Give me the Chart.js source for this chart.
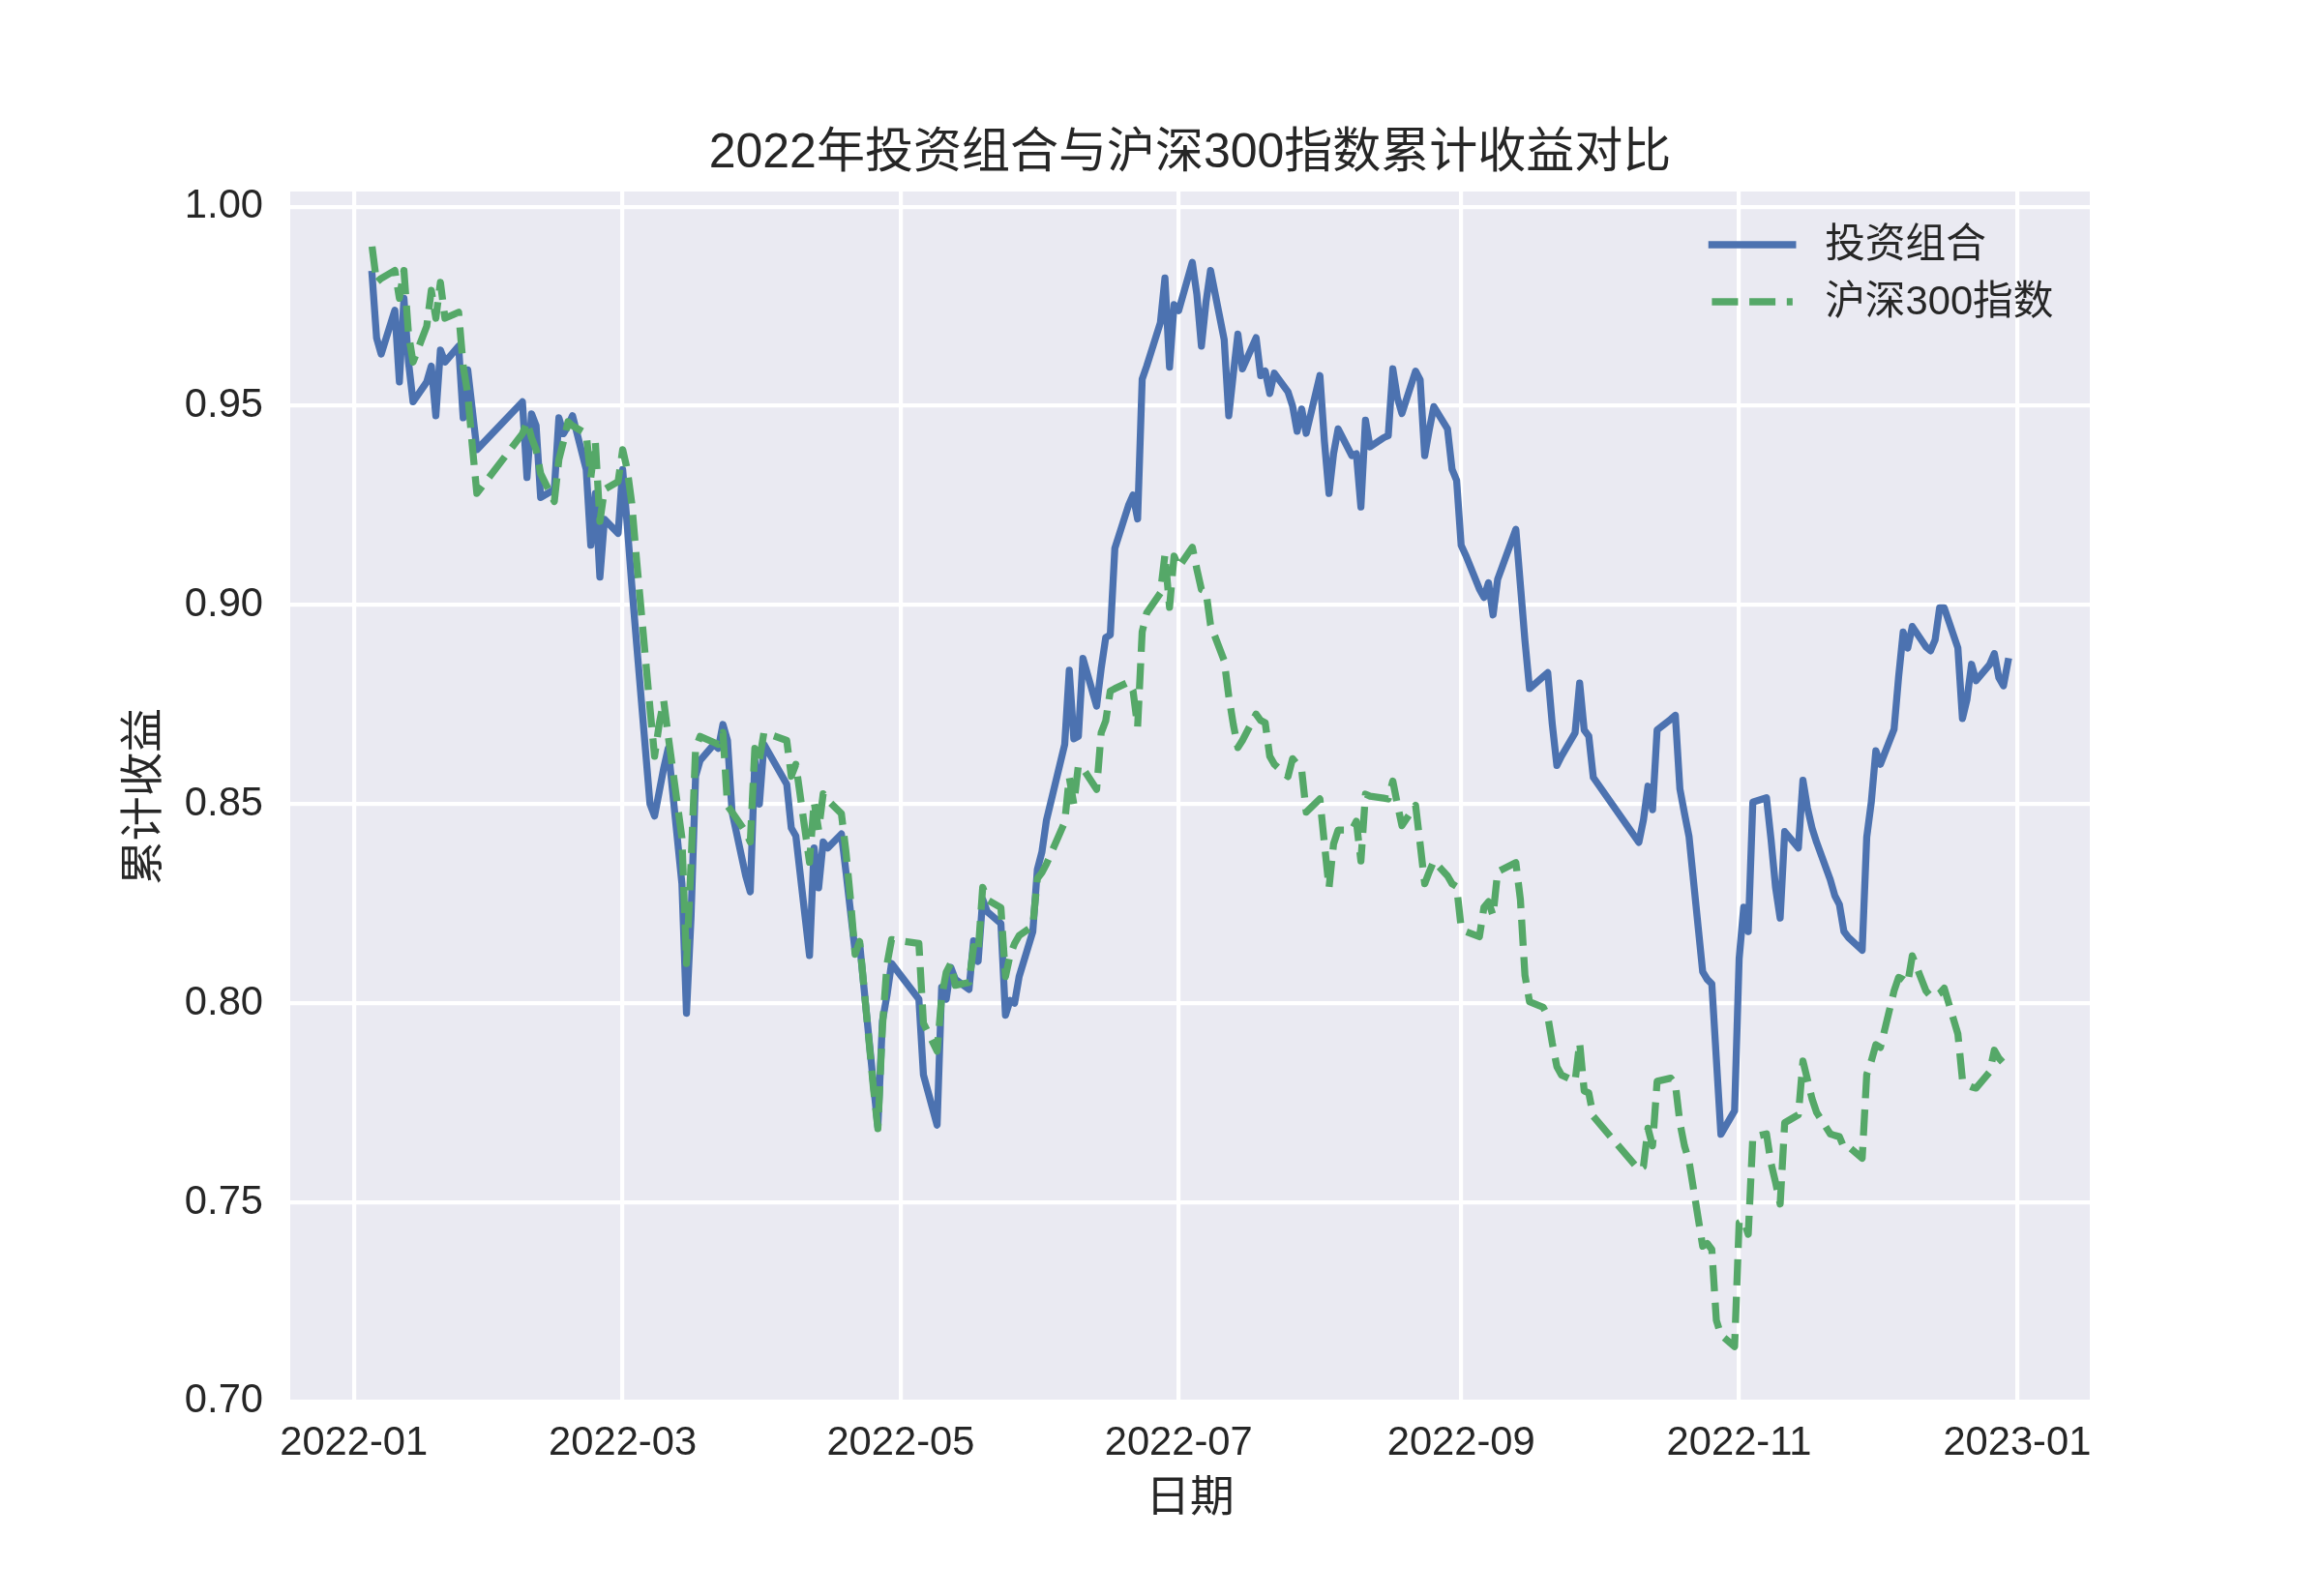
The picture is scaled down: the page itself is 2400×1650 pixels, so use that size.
<!DOCTYPE html>
<html>
<head>
<meta charset="utf-8">
<script src="https://cdn.jsdelivr.net/npm/chart.js@4.4.1/dist/chart.umd.min.js"></script>
<style>
  html, body { margin: 0; padding: 0; background: #ffffff; }
  canvas { display: block; }
</style>
</head>
<body>
<canvas id="cumChart" width="2400" height="1650" style="width:2400px;height:1650px"></canvas>
<script>
// trading days of 2022 (MM-DD)
const dates = [
  '01-05','01-06','01-07','01-10','01-11','01-12','01-13','01-14','01-17','01-18','01-19','01-20','01-21','01-24','01-25','01-26','01-27','01-28',
  '02-07','02-08','02-09','02-10','02-11','02-14','02-15','02-16','02-17','02-18','02-21','02-22','02-23','02-24','02-25','02-28',
  '03-01','03-02','03-03','03-04','03-07','03-08','03-09','03-10','03-11','03-14','03-15','03-16','03-17','03-18','03-21','03-22','03-23','03-24','03-25','03-28','03-29','03-30','03-31',
  '04-01','04-06','04-07','04-08','04-11','04-12','04-13','04-14','04-15','04-18','04-19','04-20','04-21','04-22','04-25','04-26','04-27','04-28','04-29',
  '05-05','05-06','05-09','05-10','05-11','05-12','05-13','05-16','05-17','05-18','05-19','05-20','05-23','05-24','05-25','05-26','05-27','05-30','05-31',
  '06-01','06-02','06-06','06-07','06-08','06-09','06-10','06-13','06-14','06-15','06-16','06-17','06-20','06-21','06-22','06-23','06-24','06-27','06-28','06-29','06-30',
  '07-01','07-04','07-05','07-06','07-07','07-08','07-11','07-12','07-13','07-14','07-15','07-18','07-19','07-20','07-21','07-22','07-25','07-26','07-27','07-28','07-29',
  '08-01','08-02','08-03','08-04','08-05','08-08','08-09','08-10','08-11','08-12','08-15','08-16','08-17','08-18','08-19','08-22','08-23','08-24','08-25','08-26','08-29','08-30','08-31',
  '09-01','09-02','09-05','09-06','09-07','09-08','09-09','09-13','09-14','09-15','09-16','09-19','09-20','09-21','09-22','09-23','09-26','09-27','09-28','09-29','09-30',
  '10-10','10-11','10-12','10-13','10-14','10-17','10-18','10-19','10-20','10-21','10-24','10-25','10-26','10-27','10-28','10-31',
  '11-01','11-02','11-03','11-04','11-07','11-08','11-09','11-10','11-11','11-14','11-15','11-16','11-17','11-18','11-21','11-22','11-23','11-24','11-25','11-28','11-29','11-30',
  '12-01','12-02','12-05','12-06','12-07','12-08','12-09','12-12','12-13','12-14','12-15','12-16','12-19','12-20','12-21','12-22','12-23','12-26','12-27','12-28','12-29','12-30'
];

// 投资组合
const portfolio = [
  .983,.967,.963,.974,.956,.977,.961,.951,.956,.960,.9475,.964,.961,.965,.947,.959,.949,.939,
  .951,.932,.948,.945,.927,.929,.947,.943,.945,.9475,.934,.915,.928,.907,.9215,.918,
  .934,.920,.905,.891,.850,.847,.853,.859,.864,.830,.7975,.8215,.857,.861,.865,.864,.870,.866,.848,.832,.828,.861,.850,
  .865,.855,.844,.842,.812,.839,.829,.8405,.839,.8425,.833,.823,.813,.815,.780,.769,.7955,.802,.810,
  .801,.782,.7694,.804,.801,.809,.806,.8035,.8157,.8105,.8261,.823,.820,.797,.8007,.800,.8067,.818,.8336,
  .838,.846,.865,.8836,.8664,.867,.8866,.8746,.884,.8918,.8925,.9142,.925,.9276,.9216,.9567,.960,.9709,.9821,.9597,.9754,
  .9739,.986,.978,.965,.976,.984,.9666,.9475,.958,.968,.9593,.9671,.9576,.9587,.9531,.9582,.9535,.950,.9436,.9492,.9431,
  .9576,.941,.928,.938,.9442,.9375,.938,.9246,.9464,.9397,.942,.9425,.9593,.952,.9481,.9587,.9565,.9375,.944,.9498,.9442,.9341,.9313,
  .915,.9125,.904,.9019,.9056,.8975,.9064,.919,.905,.891,.879,.882,.883,.870,.8597,.862,.8679,.8804,.8686,.8671,.8567,
  .8404,.846,.8545,.8486,.8686,.8713,.8723,.8538,.8477,.8419,.8079,.806,.8049,.786,.7671,.773,
  .8112,.8241,.818,.8505,.8516,.8411,.829,.8214,.8431,.839,.856,.849,.844,.8404,.831,.827,.8248,.818,.8165,.8133,.8417,.8505,
  .8634,.860,.8688,.882,.8932,.8892,.8946,.8895,.8885,.8912,.8993,.8993,.8892,.8715,.8763,.8851,.881,.8851,.8878,.8817,.8797,.8858
];

// 沪深300指数
const csi300 = [
  .990,.981,.982,.984,.977,.984,.968,.961,.970,.979,.972,.981,.972,.9735,.960,.953,.940,.928,
  .943,.946,.942,.939,.933,.926,.9365,.941,.946,.945,.943,.932,.941,.921,.929,.931,
  .939,.934,.9255,.912,.874,.862,.870,.876,.867,.8415,.810,.835,.864,.867,.8655,.865,.868,.8496,.848,.843,.8405,.864,.861,
  .868,.866,.857,.860,.8354,.8506,.8435,.8526,.851,.8476,.838,.826,.8123,.8155,.779,.7685,.794,.8098,.816,
  .815,.795,.788,.8016,.8078,.810,.8045,.8052,.8142,.8127,.8291,.826,.824,.8067,.812,.815,.817,.8194,.8313,
  .8328,.835,.8455,.8567,.850,.8597,.859,.8537,.8679,.8709,.8784,.879,.8806,.8784,.8694,.8933,.898,.903,.9127,.8994,.9123,
  .9095,.9145,.909,.9039,.9034,.895,.886,.8771,.870,.8642,.866,.8726,.871,.8704,.862,.860,.8569,.8614,.860,.8586,.848,
  .8513,.840,.829,.840,.8435,.8435,.8457,.8357,.8525,.852,.8515,.8513,.8558,.850,.8446,.8497,.840,.830,.833,.8357,.832,.830,.8293,
  .819,.818,.8167,.8241,.8255,.822,.833,.8353,.826,.807,.8004,.799,.7967,.790,.7841,.782,.7804,.7901,.778,.7775,.7716,
  .7582,.759,.7686,.7642,.7804,.7812,.7797,.770,.7642,.7604,.739,.7397,.7382,.7204,.7167,.7138,
  .7449,.7455,.742,.7664,.7672,.7598,.755,.7496,.770,.772,.7855,.7808,.776,.7726,.7672,.7668,.7665,.7638,.764,.7611,.7821,.7855,
  .7896,.7889,.8031,.8065,.806,.8051,.8119,.8031,.8018,.8018,.8025,.8038,.7923,.7808,.7795,.779,.7787,.7828,.7882,.7862,.785,.7848
];

const xTickLabels = ['2022-01','2022-03','2022-05','2022-07','2022-09','2022-11','2023-01'];
const yTicks = [0.70, 0.75, 0.80, 0.85, 0.90, 0.95, 1.00];

const FONT = "'Liberation Sans', Arial, 'Noto Sans CJK SC', sans-serif";
const TXT = '#262626';

// days since 2022-01-01
function dayOf(s) {
  const p = s.split('-').map(Number);
  return (Date.UTC(p[0], p[1] - 1, p[2] || 1) - Date.UTC(2022, 0, 1)) / 86400000;
}

const xs = dates.map(d => dayOf('2022-' + d));
const xPad = (xs[xs.length - 1] - xs[0]) * 0.05;
const allY = portfolio.concat(csi300);
const yLo = Math.min(...allY), yHi = Math.max(...allY);
const yPad = (yHi - yLo) * 0.05;

const plotBg = {
  id: 'plotBg',
  beforeDraw(chart) {
    const {ctx, chartArea: a} = chart;
    ctx.save();
    ctx.fillStyle = '#ffffff';
    ctx.fillRect(0, 0, chart.width, chart.height);
    ctx.fillStyle = '#EAEAF2';
    ctx.fillRect(a.left, a.top, a.right - a.left, a.bottom - a.top);
    ctx.restore();
  }
};

// legend in the upper right corner, two rows, no frame
const cornerLegend = {
  id: 'cornerLegend',
  afterDraw(chart) {
    const {ctx, chartArea: a} = chart;
    const fs = 41.7;
    const sets = chart.data.datasets;
    ctx.save();
    ctx.font = fs + 'px ' + FONT;
    const maxW = Math.max(...sets.map(d => ctx.measureText(d.label).width));
    const textX = a.right - 0.9 * fs - maxW;
    const x1 = textX - 0.8 * fs;
    const x0 = x1 - 2 * fs;
    sets.forEach((d, i) => {
      const y = a.top + 55 + i * 59;
      ctx.strokeStyle = d.borderColor;
      ctx.lineWidth = d.borderWidth;
      ctx.lineCap = d.borderCapStyle;
      ctx.setLineDash(d.borderDash || []);
      ctx.beginPath();
      ctx.moveTo(x0, y);
      ctx.lineTo(x1, y);
      ctx.stroke();
      ctx.setLineDash([]);
      ctx.fillStyle = TXT;
      ctx.textBaseline = 'middle';
      ctx.textAlign = 'left';
      ctx.fillText(d.label, textX, y + 2);
    });
    ctx.restore();
  }
};

new Chart(document.getElementById('cumChart').getContext('2d'), {
  type: 'line',
  data: {
    datasets: [{
      label: '投资组合',
      data: xs.map((x, i) => ({x: x, y: portfolio[i]})),
      borderColor: '#4C72B0',
      borderWidth: 7.3,
      borderCapStyle: 'square',
      borderJoinStyle: 'round',
      pointRadius: 0,
      tension: 0,
      fill: false,
      order: 1
    }, {
      label: '沪深300指数',
      data: xs.map((x, i) => ({x: x, y: csi300[i]})),
      borderColor: '#55A868',
      borderWidth: 7.3,
      borderDash: [27, 11.7],
      borderCapStyle: 'butt',
      borderJoinStyle: 'round',
      pointRadius: 0,
      tension: 0,
      fill: false,
      order: 0
    }]
  },
  options: {
    responsive: false,
    devicePixelRatio: 1,
    animation: false,
    layout: { padding: { left: 0, right: 240, top: 0, bottom: 0 } },
    scales: {
      x: {
        type: 'linear',
        min: xs[0] - xPad,
        max: xs[xs.length - 1] + xPad,
        grid: { color: '#ffffff', lineWidth: 4.2, drawTicks: false },
        border: { display: false },
        afterBuildTicks: s => { s.ticks = xTickLabels.map(l => ({value: dayOf(l)})); },
        afterFit: s => { s.height = 201; },
        ticks: {
          autoSkip: false,
          maxRotation: 0,
          padding: 18,
          color: TXT,
          font: { size: 41.7, family: FONT },
          callback: (v, i) => xTickLabels[i]
        },
        title: {
          display: true,
          text: '日期',
          color: TXT,
          font: { size: 45.8, family: FONT },
          padding: { top: 0, bottom: 72 }
        }
      },
      y: {
        min: yLo - yPad,
        max: yHi + yPad,
        grid: { color: '#ffffff', lineWidth: 4.2, drawTicks: false },
        border: { display: false },
        afterBuildTicks: s => { s.ticks = yTicks.map(v => ({value: v})); },
        afterFit: s => { s.width = 300; },
        ticks: {
          padding: 28,
          color: TXT,
          font: { size: 41.7, family: FONT },
          callback: v => Number(v).toFixed(2)
        },
        title: {
          display: true,
          text: '累计收益',
          color: TXT,
          font: { size: 45.8, family: FONT },
          padding: { top: 123, bottom: 0 }
        }
      }
    },
    plugins: {
      legend: { display: false },
      tooltip: { enabled: false },
      title: {
        display: true,
        fullSize: false,
        text: '2022年投资组合与沪深300指数累计收益对比',
        color: TXT,
        font: { size: 50, family: FONT, weight: 'normal' },
        padding: { top: 129, bottom: 9 }
      }
    }
  },
  plugins: [plotBg, cornerLegend]
});
</script>
</body>
</html>
